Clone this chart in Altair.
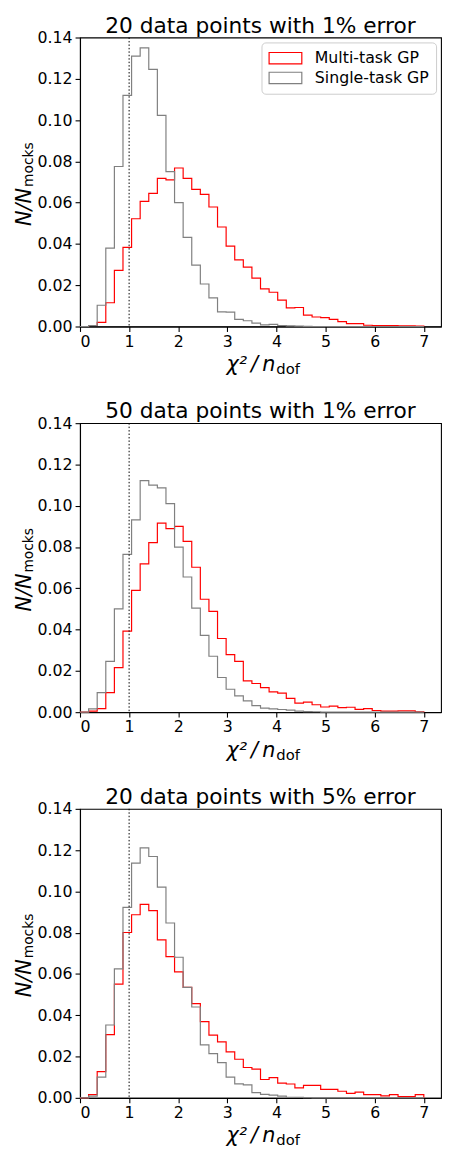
import altair as alt
import pandas as pd

# histogram bin edges (chi2 / n_dof)
edges = [0.0, 0.175, 0.35, 0.525, 0.7, 0.875, 1.05, 1.225, 1.4, 1.575, 1.75,
         1.925, 2.1, 2.275, 2.45, 2.625, 2.8, 2.975, 3.15, 3.325, 3.5,
         3.675, 3.85, 4.025, 4.2, 4.375, 4.55, 4.725, 4.9, 5.075, 5.25,
         5.425, 5.6, 5.775, 5.95, 6.125, 6.3, 6.475, 6.65, 6.825, 7.0]

series_names = ["Multi-task GP", "Single-task GP"]
titles = ["20 data points with 1% error", "50 data points with 1% error",
          "20 data points with 5% error"]

# panel 1: 20 data points, 1% error
p1_multi = [0.0, 0.0005, 0.002, 0.0115, 0.0272, 0.0383, 0.0522, 0.0606, 0.0645, 0.0718,
            0.071, 0.0768, 0.0718, 0.0664, 0.064, 0.0579, 0.0482, 0.0389, 0.0323, 0.0288,
            0.0234, 0.0182, 0.0166, 0.0128, 0.009, 0.0092, 0.0055, 0.0046, 0.0043, 0.0035,
            0.0024, 0.0014, 0.0014, 0.0006, 0.0005, 0.0005, 0.0005, 0.0003, 0.0003, 0.0002]
p1_single = [0.0, 0.0005, 0.0103, 0.038, 0.0775, 0.112, 0.131, 0.135, 0.1246, 0.1023,
             0.075, 0.060, 0.0432, 0.0297, 0.0206, 0.0139, 0.0071, 0.0070, 0.0035, 0.0028,
             0.0016, 0.0008, 0.001, 0.0005, 0.0003, 0.0002, 0.0001, 0.0, 0.0, 0.0,
             0.0, 0.0, 0.0, 0.0, 0.0, 0.0, 0.0, 0.0, 0.0, 0.0]

# panel 2: 50 data points, 1% error
p2_multi = [0.0, 0.0005, 0.0017, 0.0095, 0.0216, 0.0393, 0.059, 0.0718, 0.0821, 0.0916,
            0.0889, 0.090, 0.0827, 0.0702, 0.0547, 0.0488, 0.0357, 0.0279, 0.0246, 0.0152,
            0.0139, 0.0119, 0.0098, 0.0092, 0.0067, 0.0044, 0.0049, 0.0036, 0.0025, 0.0029,
            0.0022, 0.0024, 0.0014, 0.0017, 0.0008, 0.0005, 0.0005, 0.0006, 0.0006, 0.0002]
p2_single = [0.0, 0.0016, 0.0095, 0.0246, 0.050, 0.0764, 0.0932, 0.1122, 0.110, 0.1087,
             0.101, 0.080, 0.0655, 0.0504, 0.0372, 0.0271, 0.0168, 0.0111, 0.0079, 0.0055,
             0.0032, 0.002, 0.0016, 0.0013, 0.001, 0.0005, 0.0003, 0.0002, 0.0, 0.0,
             0.0, 0.0, 0.0, 0.0, 0.0, 0.0, 0.0, 0.0, 0.0, 0.0]

# panel 3: 20 data points, 5% error
p3_multi = [0.0, 0.0016, 0.0127, 0.0306, 0.0551, 0.0801, 0.0887, 0.0937, 0.0907, 0.0765,
            0.0684, 0.061, 0.0535, 0.0456, 0.0369, 0.0304, 0.0271, 0.0223, 0.0187, 0.0147,
            0.0139, 0.0089, 0.0098, 0.0071, 0.0067, 0.0048, 0.006, 0.006, 0.0041, 0.0041,
            0.0032, 0.0022, 0.0028, 0.0016, 0.0016, 0.001, 0.0016, 0.0006, 0.0006, 0.0016]
p3_single = [0.0, 0.0008, 0.010, 0.0353, 0.0625, 0.0923, 0.1137, 0.1211, 0.1169, 0.1021,
             0.0847, 0.0681, 0.0535, 0.044, 0.0257, 0.0214, 0.0171, 0.010, 0.0068, 0.0063,
             0.0025, 0.0017, 0.0013, 0.0008, 0.0003, 0.0002, 0.0001, 0.0, 0.0, 0.0,
             0.0, 0.0, 0.0, 0.0, 0.0, 0.0, 0.0, 0.0, 0.0, 0.0]

y_ticks = [0.0, 0.02, 0.04, 0.06, 0.08, 0.10, 0.12, 0.14]
x_ticks = [0, 1, 2, 3, 4, 5, 6, 7]

W, H = 366, 293
FONT = "DejaVu Sans"


def step_frame(values, name):
    xs = [edges[0]] + edges[:-1] + [edges[-1]]
    ys = [0.0] + list(values) + [0.0]
    return pd.DataFrame({"x": xs, "y": ys, "i": list(range(len(xs))),
                         "series": name})


def panel(title, multi, single):
    df = pd.concat([step_frame(multi, series_names[0]),
                    step_frame(single, series_names[1])], ignore_index=True)
    xs = alt.Scale(domain=[0, 7.35], nice=False, zero=False)
    ys = alt.Scale(domain=[0, 0.14], nice=False)
    lines = alt.Chart(df).mark_line(interpolate="step-after", strokeWidth=1.2).encode(
        x=alt.X("x:Q", scale=xs,
                axis=alt.Axis(values=x_ticks, format="d", title=None)),
        y=alt.Y("y:Q", scale=ys,
                axis=alt.Axis(values=y_ticks, format=".2f", title=None)),
        stroke=alt.Stroke("series:N",
                          scale=alt.Scale(domain=series_names, range=["#ff0000", "#808080"]),
                          legend=alt.Legend(
                              title=None, orient="top-right", offset=5,
                              fillColor="white", strokeColor="#cccccc", cornerRadius=4,
                              padding=7, symbolType="M-1,-0.7H3V0.7H-1Z",
                              symbolSize=275, symbolStrokeWidth=1.2,
                              symbolFillColor="white",
                              labelFontSize=16, labelFont=FONT, labelColor="black",
                              labelOffset=29, rowPadding=2)),
        detail="series:N",
        order="i:Q",
    )
    vline = alt.Chart(pd.DataFrame({"x": [1.0]})).mark_rule(
        color="black", strokeDash=[1.5, 2], strokeWidth=1).encode(x=alt.X("x:Q", scale=xs))
    one = pd.DataFrame({"a": [0]})
    ttl = alt.Chart(one).mark_text(
        text=title, font=FONT, fontSize=22, align="center", baseline="alphabetic",
        color="black").encode(x=alt.value(W / 2), y=alt.value(-5))
    xt_main = alt.Chart(one).mark_text(
        text="χ²\u2009/\u2009n", font=FONT, fontSize=21, fontStyle="italic", align="right",
        baseline="alphabetic", color="black").encode(
        x=alt.value(W / 2 + 15), y=alt.value(H + 45))
    xt_sub = alt.Chart(one).mark_text(
        text="dof", font=FONT, fontSize=15, align="left",
        baseline="alphabetic", color="black").encode(
        x=alt.value(W / 2 + 16), y=alt.value(H + 48))
    yt_main = alt.Chart(one).mark_text(
        text="N/N", font=FONT, fontSize=21, fontStyle="italic", align="right",
        baseline="alphabetic", angle=270, color="black").encode(
        x=alt.value(-50), y=alt.value(H / 2 + 6))
    yt_sub = alt.Chart(one).mark_text(
        text="mocks", font=FONT, fontSize=14, align="left",
        baseline="alphabetic", angle=270, color="black").encode(
        x=alt.value(-48), y=alt.value(H / 2 + 5))
    return alt.layer(lines, vline, ttl, xt_main, xt_sub, yt_main, yt_sub).properties(
        width=W, height=H)


chart = alt.vconcat(
    panel(titles[0], p1_multi, p1_single),
    panel(titles[1], p2_multi, p2_single),
    panel(titles[2], p3_multi, p3_single),
    spacing=98, bounds="flush",
).properties(
    padding={"left": 5, "top": -2, "right": 0, "bottom": -4},
    background="white",
).configure_view(stroke="black", strokeWidth=1.1, fill="white"
).configure_axis(
    grid=False, domainColor="black", domainWidth=1.1, tickColor="black",
    tickSize=5, tickWidth=1.1, labelFont=FONT, labelFontSize=16, labelColor="black",
    labelPadding=2,
).configure_axisY(labelPadding=3)

chart.save("out.html", embed_options={"renderer": "svg", "actions": False})
